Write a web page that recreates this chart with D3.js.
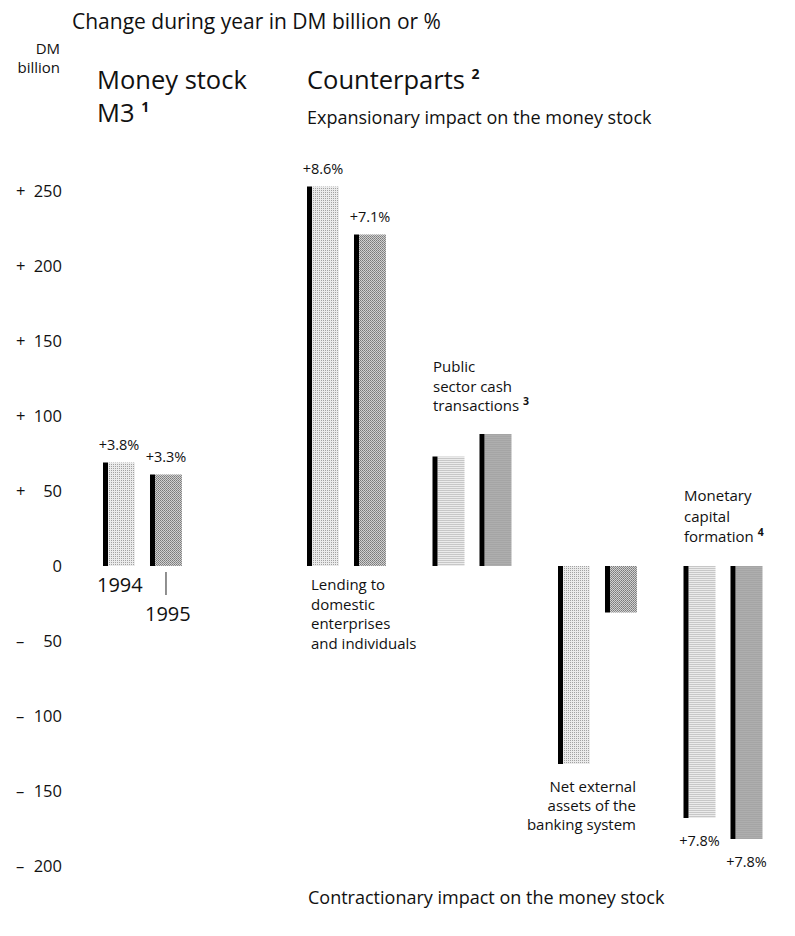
<!DOCTYPE html>
<html>
<head>
<meta charset="utf-8">
<script src="https://cdn.jsdelivr.net/npm/d3@7"></script>
<style>
  body { margin: 0; background: #fff; }
  svg text { font-family: "Open Sans", "Noto Sans", sans-serif; fill: #111; }
</style>
</head>
<body>
<svg width="795" height="936"></svg>
<script>
var groups = ["M3", "Lending", "Public", "NetExternal", "MonetaryCapital"];
var counterparts = ["Lending", "Public", "NetExternal", "MonetaryCapital"];
var years = ["1994", "1995"];
// DM billion, change during year
var values1994 = [69, 253, 73, -132, -168];
var values1995 = [61, 221, 88, -31, -182];
var pct1994 = ["+3.8%", "+8.6%", "", "", "+7.8%"];
var pct1995 = ["+3.3%", "+7.1%", "", "", "+7.8%"];
var yTicks = [250, 200, 150, 100, 50, 0, -50, -100, -150, -200];

var svg = d3.select("svg");

var y = d3.scaleLinear().domain([-200, 250]).range([866, 191]);

var xM3 = d3.scaleBand().domain(["M3"]).range([103, 228.5]);
var xCp = d3.scaleBand().domain(counterparts).range([307, 809]);
var xYear = d3.scaleBand().domain(years).range([0, 79]).paddingInner(0.319).paddingOuter(0);

function groupX(g) {
  return g === "M3" ? xM3(g) : xCp(g);
}

// halftone patterns
var defs = svg.append("defs");
var p94 = defs.append("pattern").attr("id", "h1994")
  .attr("width", 2).attr("height", 2).attr("patternUnits", "userSpaceOnUse");
p94.append("rect").attr("width", 2).attr("height", 2).attr("fill", "#ebebeb");
p94.append("rect").attr("x", 0).attr("y", 0).attr("width", 1).attr("height", 1).attr("fill", "#a2a2a2");

var p95 = defs.append("pattern").attr("id", "h1995")
  .attr("width", 2).attr("height", 2).attr("patternUnits", "userSpaceOnUse");
p95.append("rect").attr("width", 2).attr("height", 2).attr("fill", "#d0d0d0");
p95.append("rect").attr("x", 0).attr("y", 0).attr("width", 1).attr("height", 1).attr("fill", "#7a7a7a");
p95.append("rect").attr("x", 1).attr("y", 1).attr("width", 1).attr("height", 1).attr("fill", "#8c8c8c");

// y axis
var axis = svg.append("g")
  .attr("transform", "translate(62,0)")
  .call(d3.axisLeft(y).tickValues(yTicks).tickSize(0).tickPadding(0)
    .tickFormat(function(d) { return Math.abs(d); }));
axis.select(".domain").remove();
axis.selectAll("text")
  .attr("dy", "0.35em")
  .style("font-family", "'Open Sans', sans-serif")
  .style("font-size", "16.5px")
  .style("font-weight", 500)
  .attr("fill", "#111");
axis.selectAll(".tick")
  .filter(function(d) { return d !== 0; })
  .append("text")
  .attr("x", -46)
  .attr("dy", "0.35em")
  .attr("text-anchor", "start")
  .attr("fill", "#111")
  .style("font-family", "'Open Sans', sans-serif")
  .style("font-size", "16.5px")
  .style("font-weight", 500)
  .text(function(d) { return d > 0 ? "+" : "\u2013"; });

// bars
var data = [];
groups.forEach(function(g, i) {
  data.push({ group: g, year: "1994", value: values1994[i], pct: pct1994[i] });
  data.push({ group: g, year: "1995", value: values1995[i], pct: pct1995[i] });
});

var bars = svg.append("g").selectAll("g.bar")
  .data(data)
  .enter()
  .append("g")
  .attr("class", "bar")
  .attr("transform", function(d) {
    return "translate(" + (groupX(d.group) + xYear(d.year)) + ",0)";
  });

bars.append("rect")
  .attr("x", 5)
  .attr("y", function(d) { return y(Math.max(0, d.value)); })
  .attr("width", xYear.bandwidth() - 5)
  .attr("height", function(d) { return Math.abs(y(d.value) - y(0)); })
  .attr("fill", function(d) { return "url(#h" + d.year + ")"; });

bars.append("rect")
  .attr("x", 0)
  .attr("y", function(d) { return y(Math.max(0, d.value)); })
  .attr("width", 5)
  .attr("height", function(d) { return Math.abs(y(d.value) - y(0)); })
  .attr("fill", "#000");

bars.filter(function(d) { return d.pct !== ""; })
  .append("text")
  .attr("x", xYear.bandwidth() / 2)
  .attr("y", function(d) { return d.value > 0 ? y(d.value) - 13 : y(d.value) + 28; })
  .attr("text-anchor", "middle")
  .style("font-size", "14.5px")
  .text(function(d) { return d.pct; });

// titles and labels
function addText(x, yy, str, size, anchor, weight) {
  return svg.append("text")
    .attr("x", x).attr("y", yy)
    .attr("text-anchor", anchor || "start")
    .style("font-size", size + "px")
    .style("font-weight", weight || 400)
    .text(str);
}

addText(72, 29, "Change during year in DM billion or %", 21, "start", 500);
addText(60, 54, "DM", 15, "end", 500);
addText(60, 73, "billion", 15, "end", 500);
addText(97, 89, "Money stock", 25.5, "start", 500);
var m3 = addText(97, 122, "M3 ", 25.5, "start", 500);
m3.append("tspan").attr("dy", -10).style("font-size", "14px").style("font-weight", 700).text("1");
var cp = addText(307, 89, "Counterparts ", 25.5, "start", 500);
cp.append("tspan").attr("dy", -10).style("font-size", "14px").style("font-weight", 700).text("2");
addText(307, 124, "Expansionary impact on the money stock", 18);
addText(308, 904, "Contractionary impact on the money stock", 18);

addText(97, 592, "1994", 20, "start", 500);
addText(145, 621, "1995", 20, "start", 500);
svg.append("line")
  .attr("x1", groupX("M3") + xYear("1995") + xYear.bandwidth() / 2)
  .attr("x2", groupX("M3") + xYear("1995") + xYear.bandwidth() / 2)
  .attr("y1", y(0) + 6).attr("y2", y(0) + 29)
  .attr("stroke", "#222").attr("stroke-width", 1);

function addLines(x, y0, lines, anchor, sup, step) {
  lines.forEach(function(l, i) {
    var t = addText(x, y0 + i * (step || 19.5), l, 15, anchor);
    if (sup && i === lines.length - 1) {
      t.append("tspan").attr("dy", -6).style("font-size", "10.5px").style("font-weight", 700).text(sup);
    }
  });
}

addLines(311, 590, ["Lending to", "domestic", "enterprises", "and individuals"], "start");
addLines(433, 372, ["Public", "sector cash", "transactions "], "start", "3");
addLines(636, 792, ["Net external", "assets of the", "banking system"], "end", null, 19);
addLines(684, 501, ["Monetary", "capital", "formation "], "start", "4", 20.5);
</script>
</body>
</html>
